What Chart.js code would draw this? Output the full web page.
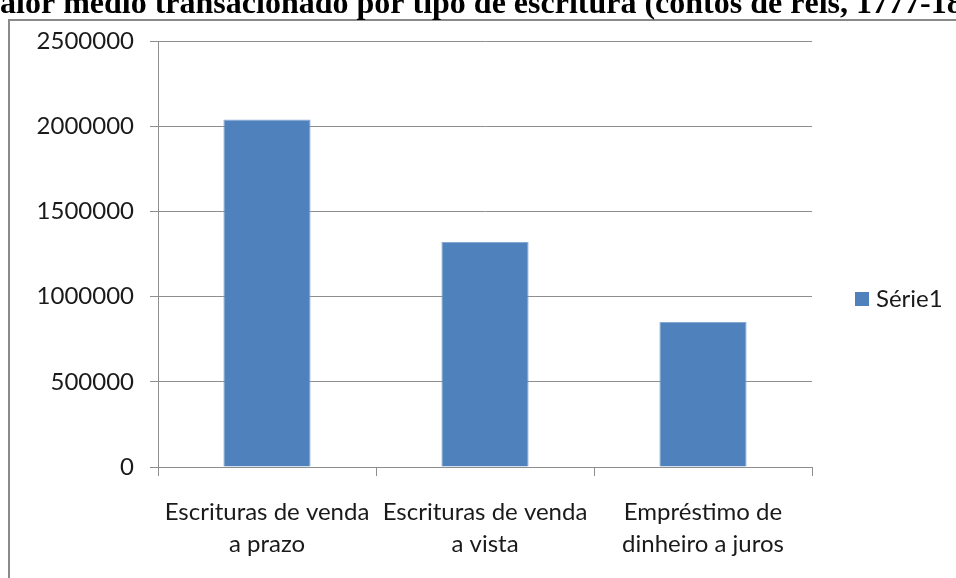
<!DOCTYPE html>
<html>
<head>
<meta charset="utf-8">
<script src="https://cdn.jsdelivr.net/npm/chart.js@4/dist/chart.umd.min.js"></script>
<style>
	html, body { margin: 0; padding: 0; background: #fff; }
	#wrap { width: 956px; height: 578px; position: relative; overflow: hidden; }
</style>
</head>
<body>
<div id="wrap"><canvas id="chart" width="956" height="578"></canvas></div>
<script>
( function () {
	'use strict';

	var titleText  = 'Valor médio transacionado por tipo de escritura (contos de réis, 1777-1800)';
	var categories = [
		[ 'Escrituras de venda', 'a prazo' ],
		[ 'Escrituras de venda', 'a vista' ],
		[ 'Empréstimo de', 'dinheiro a juros' ],
	];
	var seriesName = 'Série1';
	var values     = [ 2040000, 1320000, 851000 ];
	var yTicks     = [ 0, 500000, 1000000, 1500000, 2000000, 2500000 ];

	var barColor   = '#4f81bd';
	var gridColor  = '#8e8e8e';
	var textColor  = '#1a1a1a';
	var labelFont  = { family : 'Lato', size : 24, lineHeight : 1.33 };

	// ── Frame, clipped title and legend drawn around the plot ──────────────
	var decor = {
		id : 'decor',
		beforeDraw : function ( chart ) {
			var ctx = chart.ctx;
			ctx.save();
			ctx.strokeStyle = '#8a8a8a';
			ctx.lineWidth = 2;
			ctx.strokeRect( 9, 20, 1200, 1200 );
			ctx.restore();
		},
		afterDraw : function ( chart ) {
			var ctx = chart.ctx;
			ctx.save();
			ctx.font = 'bold 32px "Liberation Serif"';
			ctx.fillStyle = '#000';
			ctx.textBaseline = 'alphabetic';
			var vw = ctx.measureText( 'V' ).width;
			ctx.fillText( titleText, 3 - vw, 13 );

			// legend
			var lx = 855, ly = 299;
			ctx.fillStyle = barColor;
			ctx.fillRect( lx, ly - 7, 14, 14 );
			ctx.fillStyle = textColor;
			ctx.font = labelFont.size + 'px ' + labelFont.family;
			ctx.textBaseline = 'middle';
			ctx.fillText( seriesName, lx + 21, ly );
			ctx.restore();
		},
	};

	new Chart( document.getElementById( 'chart' ), {
		type : 'bar',
		data : {
			labels   : categories,
			datasets : [ {
				label              : seriesName,
				data               : values,
				backgroundColor    : barColor,
				borderColor        : '#86a8d4',
				borderWidth        : 1,
				categoryPercentage : 1,
				barPercentage      : 0.4,
			} ],
		},
		options : {
			responsive : false,
			animation  : false,
			layout : { padding : { top : 41, right : 144, bottom : 0, left : 0 } },
			plugins : {
				legend  : { display : false },
				title   : { display : false },
				tooltip : { enabled : false },
			},
			scales : {
				x : {
					afterFit : function ( scale ) { scale.height = 578 - 467; },
					grid : {
						offset          : true,
						drawOnChartArea : false,
						color           : gridColor,
						tickLength      : 9,
					},
					border : { color : gridColor },
					ticks  : { color : textColor, font : labelFont, padding : 20, maxRotation : 0 },
				},
				y : {
					min : 0,
					max : 2500000,
					afterBuildTicks : function ( scale ) {
						scale.ticks = yTicks.map( function ( v ) { return { value : v }; } );
					},
					afterFit : function ( scale ) { scale.width = 158; },
					grid   : { color : gridColor, tickLength : 8 },
					border : { color : gridColor },
					ticks  : {
						color : textColor,
						font  : labelFont,
						padding : 16,
						callback : function ( v ) { return String( v ); },
					},
				},
			},
		},
		plugins : [ decor ],
	} );
} )();
</script>
</body>
</html>
